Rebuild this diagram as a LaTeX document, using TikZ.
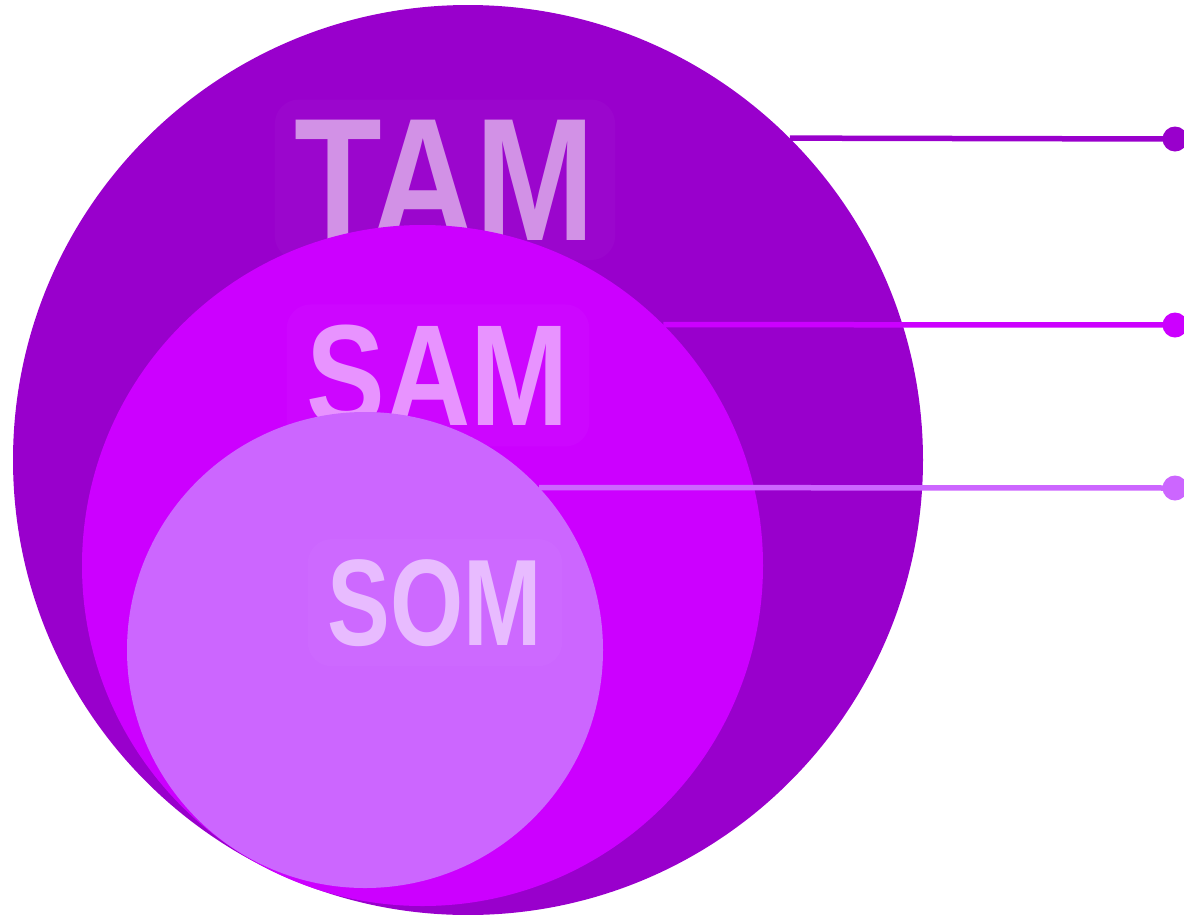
\documentclass[tikz,border=0pt]{standalone}
\usepackage{fontspec}
\setmainfont{Liberation Sans}
\newfontfamily\narrowsans{Liberation Sans}[FakeStretch=0.82]
\newfontfamily\slimsans{Liberation Sans}[FakeStretch=0.765]
\definecolor{tamfill}{HTML}{9900CC}
\definecolor{samfill}{HTML}{CC00FF}
\definecolor{somfill}{HTML}{CC66FF}
\definecolor{tamtext}{HTML}{D291E6}
\definecolor{samtext}{HTML}{E893FF}
\definecolor{somtext}{HTML}{E8BBFF}
\tikzset{
  market/.style={circle, inner sep=0pt, minimum size=#1},
  marklabel/.style n args={2}{font=#1\bfseries\fontsize{#2}{#2}\selectfont, anchor=base,
    inner sep=20pt, fill=white, fill opacity=0.025, text opacity=1, rounded corners=24pt},
  tagline/.style={line width=5.5pt},
  tagdot/.style={circle, inner sep=0pt, minimum size=25pt}
}

\begin{document}
\begin{tikzpicture}[x=1pt,y=-1pt]
			%%%%% START %%%%%
			\useasboundingbox (0,0) rectangle (1184,914);
			
			\node[market=910pt, fill=tamfill] (tam) at (468,460) {};
			\node[marklabel={\narrowsans}{175}, text=tamtext] (tamlabel) at (445,240) {TAM};
			\node[tagdot, fill=tamfill] (tamdot) at (1175,139) {};
			\draw[tagline, tamfill] (tam.45) -- (tamdot.center);
			
			\node[market=681pt, fill=samfill] (sam) at (422.5,565.5) {};
			\node[marklabel={\narrowsans}{144}, text=samtext] (samlabel) at (438,425) {SAM};
			\node[tagdot, fill=samfill] (samdot) at (1175,325) {};
			\draw[tagline, samfill] (sam.45.4) -- (samdot.center);
			
			\node[market=476pt, fill=somfill] (som) at (365,650) {};
			\node[marklabel={\slimsans}{123}, text=somtext] (somlabel) at (435,645) {SOM};
			\node[tagdot, fill=somfill] (somdot) at (1175,488) {};
			\draw[tagline, somfill] (som.43.4) -- (somdot.center);
			
			%%%%% END %%%%%
		\end{tikzpicture}
\end{document}
